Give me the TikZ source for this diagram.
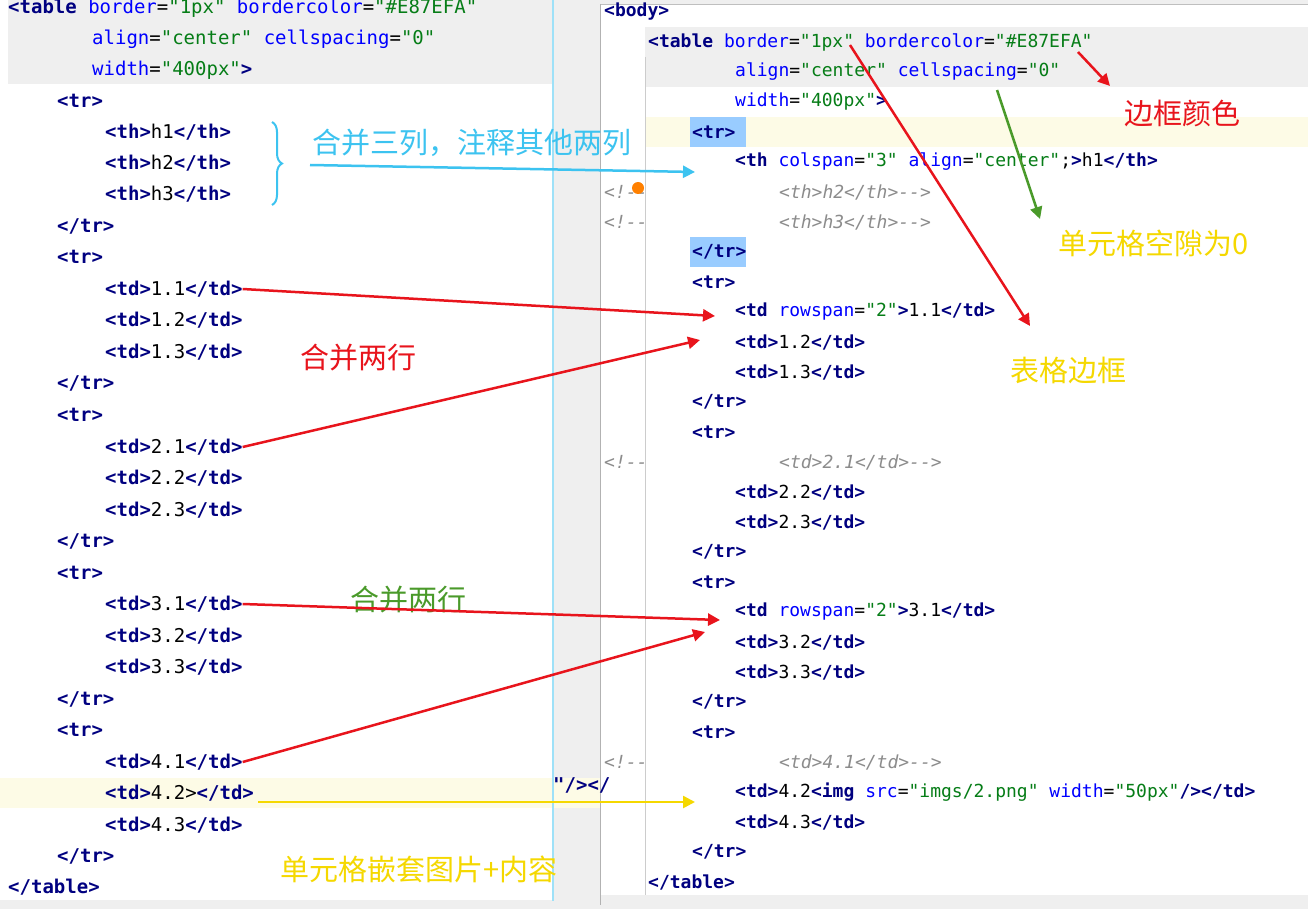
\documentclass[tikz,border=0pt]{standalone}
\usepackage{fontspec}
\setmonofont{DejaVu Sans Mono}
\newfontfamily\cjk{Noto Sans CJK SC}
\usetikzlibrary{arrows.meta,decorations.pathreplacing}
\definecolor{tagc}{HTML}{000080}
\definecolor{attc}{HTML}{0000FF}
\definecolor{valc}{HTML}{067D17}
\definecolor{cmc}{HTML}{8C8C8C}
\definecolor{bandg}{HTML}{EFEFEF}
\definecolor{bandy}{HTML}{FDFBE6}
\definecolor{selb}{HTML}{99CCFF}
\definecolor{cyanc}{HTML}{3CC3F0}
\definecolor{redc}{HTML}{E8141C}
\definecolor{greenc}{HTML}{4A9A2A}
\definecolor{yelc}{HTML}{F5D800}
\newcommand{\tg}[1]{\textcolor{tagc}{\bfseries #1}}
\newcommand{\at}[1]{\textcolor{attc}{#1}}
\newcommand{\vl}[1]{\textcolor{valc}{#1}}
\newcommand{\cm}[1]{\textcolor{cmc}{\itshape #1}}
\begin{document}
\begin{tikzpicture}[x=1pt,y=-1pt,
  lc/.style={anchor=west,inner sep=0pt,font=\ttfamily\fontsize{19}{19}\selectfont},
  rc/.style={anchor=west,inner sep=0pt,font=\ttfamily\fontsize{18}{18}\selectfont},
  note/.style={anchor=west,inner sep=0pt,font=\cjk\fontsize{29}{29}\selectfont},
  arr/.style={line width=2.5pt,-{Triangle[length=12pt,width=12pt]}}]
\useasboundingbox (0,0) rectangle (1308,909);
\fill[bandg] (0,0) rectangle (1308,909);
% left panel
\fill[white] (0,0) rectangle (553,900);
\fill[bandg] (8,0) rectangle (553,84);
\fill[bandy] (0,778) rectangle (600,808);
\draw[cyanc!50,line width=1.5pt] (553,0) -- (553,901);
% right panel
\fill[white] (600,4) rectangle (1308,895);
\draw[gray!50] (600,4) -- (1308,4);
\draw[gray!60,line width=1pt] (600,4) -- (600,905);
\fill[bandg] (645,27) rectangle (1308,87);
\fill[bandy] (645,117) rectangle (1308,147);
\fill[selb] (690,117) rectangle (746,147);
\fill[selb] (690,237) rectangle (746,267);
\draw[gray!40] (645,57) -- (645,895);
% left code
\node[lc] (l1) at (8,8) {\tg{<table} \at{border}=\vl{"1px"} \at{bordercolor}=\vl{"\#E87EFA"}};
\node[lc] (l2) at (92,39) {\at{align}=\vl{"center"} \at{cellspacing}=\vl{"0"}};
\node[lc] (l3) at (92,70) {\at{width}=\vl{"400px"}\tg{>}};
\node[lc] (l4) at (57,101) {\tg{<tr>}};
\node[lc] (lh1) at (105,132) {\tg{<th>}h1\tg{</th>}};
\node[lc] (lh2) at (105,163) {\tg{<th>}h2\tg{</th>}};
\node[lc] (lh3) at (105,194) {\tg{<th>}h3\tg{</th>}};
\node[lc] (l8) at (57,226) {\tg{</tr>}};
\node[lc] (l9) at (57,257) {\tg{<tr>}};
\node[lc] (a11) at (105,289) {\tg{<td>}1.1\tg{</td>}};
\node[lc] (a12) at (105,320) {\tg{<td>}1.2\tg{</td>}};
\node[lc] (a13) at (105,352) {\tg{<td>}1.3\tg{</td>}};
\node[lc] (l13) at (57,383) {\tg{</tr>}};
\node[lc] (l14) at (57,415) {\tg{<tr>}};
\node[lc] (a21) at (105,447) {\tg{<td>}2.1\tg{</td>}};
\node[lc] (a22) at (105,478) {\tg{<td>}2.2\tg{</td>}};
\node[lc] (a23) at (105,510) {\tg{<td>}2.3\tg{</td>}};
\node[lc] (l18) at (57,541) {\tg{</tr>}};
\node[lc] (l19) at (57,573) {\tg{<tr>}};
\node[lc] (a31) at (105,604) {\tg{<td>}3.1\tg{</td>}};
\node[lc] (a32) at (105,636) {\tg{<td>}3.2\tg{</td>}};
\node[lc] (a33) at (105,667) {\tg{<td>}3.3\tg{</td>}};
\node[lc] (l23) at (57,699) {\tg{</tr>}};
\node[lc] (l24) at (57,730) {\tg{<tr>}};
\node[lc] (a41) at (105,762) {\tg{<td>}4.1\tg{</td>}};
\node[lc] (a42) at (105,793) {\tg{<td>}4.2>\tg{</td>}};
\node[lc] (a43) at (105,825) {\tg{<td>}4.3\tg{</td>}};
\node[lc] (l28) at (57,856) {\tg{</tr>}};
\node[lc] (l29) at (8,887) {\tg{</table>}};
\node[lc] (frag) at (553,785) {\tg{"/></}};
% right code
\node[rc] (r1) at (604,12) {\tg{<body>}};
\node[rc] (r2) at (648,42) {\tg{<table} \at{border}=\vl{"1px"} \at{bordercolor}=\vl{"\#E87EFA"}};
\node[rc] (r3) at (735,72) {\at{align}=\vl{"center"} \at{cellspacing}=\vl{"0"}};
\node[rc] (r4) at (735,102) {\at{width}=\vl{"400px"}\tg{>}};
\node[rc] (r5) at (692,132) {\tg{<tr>}};
\node[rc] (rh1) at (735,162) {\tg{<th} \at{colspan}=\vl{"3"} \at{align}=\vl{"center"};\tg{>}h1\tg{</th>}};
\node[rc] (c1) at (604,192) {\cm{<!-{}-}};
\node[rc] (rh2) at (779,192) {\cm{<th>h2</th>-{}->}};
\node[rc] (c2) at (604,222) {\cm{<!-{}-}};
\node[rc] (rh3) at (779,222) {\cm{<th>h3</th>-{}->}};
\fill[orange] (638,188) circle (6);
\node[rc] (r8) at (692,252) {\tg{</tr>}};
\node[rc] (r9) at (692,282) {\tg{<tr>}};
\node[rc] (b11) at (735,312) {\tg{<td} \at{rowspan}=\vl{"2"}\tg{>}1.1\tg{</td>}};
\node[rc] (b12) at (735,342) {\tg{<td>}1.2\tg{</td>}};
\node[rc] (b13) at (735,372) {\tg{<td>}1.3\tg{</td>}};
\node[rc] (r13) at (692,402) {\tg{</tr>}};
\node[rc] (r14) at (692,432) {\tg{<tr>}};
\node[rc] (c3) at (604,462) {\cm{<!-{}-}};
\node[rc] (b21) at (779,462) {\cm{<td>2.1</td>-{}->}};
\node[rc] (b22) at (735,492) {\tg{<td>}2.2\tg{</td>}};
\node[rc] (b23) at (735,522) {\tg{<td>}2.3\tg{</td>}};
\node[rc] (r18) at (692,552) {\tg{</tr>}};
\node[rc] (r19) at (692,582) {\tg{<tr>}};
\node[rc] (b31) at (735,612) {\tg{<td} \at{rowspan}=\vl{"2"}\tg{>}3.1\tg{</td>}};
\node[rc] (b32) at (735,642) {\tg{<td>}3.2\tg{</td>}};
\node[rc] (b33) at (735,672) {\tg{<td>}3.3\tg{</td>}};
\node[rc] (r23) at (692,702) {\tg{</tr>}};
\node[rc] (r24) at (692,732) {\tg{<tr>}};
\node[rc] (c4) at (604,762) {\cm{<!-{}-}};
\node[rc] (b41) at (779,762) {\cm{<td>4.1</td>-{}->}};
\node[rc] (b42) at (735,792) {\tg{<td>}4.2\tg{<img} \at{src}=\vl{"imgs/2.png"} \at{width}=\vl{"50px"}\tg{/></td>}};
\node[rc] (b43) at (735,822) {\tg{<td>}4.3\tg{</td>}};
\node[rc] (r28) at (692,852) {\tg{</tr>}};
\node[rc] (r29) at (648,882) {\tg{</table>}};
% annotations
\coordinate (bt) at (272,122); \coordinate (bb) at (272,205);
\draw[cyanc,line width=2pt,decorate,decoration={brace,amplitude=10pt}] (bt) -- (bb);
\node[note,text=cyanc] (n1) at (312,143) {合并三列，注释其他两列};
\coordinate (p1s) at (310,165); \coordinate (p1e) at (695,172);
\draw[arr,cyanc] (p1s) -- (p1e);
\node[note,text=redc] (n2) at (300,358) {合并两行};
\node[note,text=greenc] (n3) at (350,600) {合并两行};
\node[note,text=yelc] (n4) at (280,869) {单元格嵌套图片+内容};
\node[note,text=redc] (n5) at (1124,113) {边框颜色};
\node[note,text=yelc] (n6) at (1010,370) {表格边框};
\node[note,text=yelc] (n7) at (1058,243) {单元格空隙为0};
\coordinate (q1) at (715,316); \coordinate (q2) at (700,340);
\coordinate (q3) at (720,620); \coordinate (q4) at (705,632);
\coordinate (y1) at (258,802); \coordinate (q5) at (695,802);
\draw[arr,redc] (a11.east) -- (q1);
\draw[arr,redc] (a21.east) -- (q2);
\draw[arr,redc] (a31.east) -- (q3);
\draw[arr,redc] (a41.east) -- (q4);
\draw[arr,yelc] (y1) -- (q5);
\coordinate (s5) at (1078,52); \coordinate (e5) at (1110,86);
\draw[arr,redc] (s5) -- (e5);
\coordinate (s6) at (850,45); \coordinate (e6) at (1030,326);
\draw[arr,redc] (s6) -- (e6);
\coordinate (s7) at (997,90); \coordinate (e7) at (1040,219);
\draw[arr,greenc] (s7) -- (e7);
\end{tikzpicture}
\end{document}
